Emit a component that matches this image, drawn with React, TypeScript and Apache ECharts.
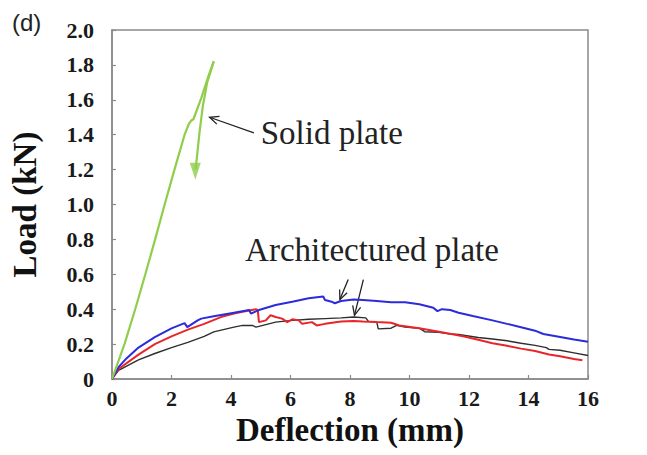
import React, { useEffect, useRef } from "react";
import * as echarts from "echarts";

// ---- data (deflection mm, load kN) ----
const solidLoading: number[][] = [
  [0, 0], [0.42, 0.2], [0.78, 0.4], [1.12, 0.6], [1.45, 0.8], [1.77, 1.0],
  [2.1, 1.2], [2.44, 1.4], [2.58, 1.46], [2.66, 1.48], [2.74, 1.49],
  [3.0, 1.61], [3.25, 1.74], [3.42, 1.82],
];
const solidUnloading: number[][] = [
  [3.42, 1.82], [3.2, 1.7], [3.05, 1.56], [2.94, 1.41], [2.86, 1.28], [2.81, 1.2],
];
const solidArrowHead: number[][] = [[2.8, 1.19]];

const blueCurve: number[][] = [
  [0, 0], [0.22, 0.068], [0.44, 0.11], [0.89, 0.18], [1.44, 0.24], [2.0, 0.29],
  [2.44, 0.32], [2.53, 0.297], [2.88, 0.336], [3.0, 0.346], [3.42, 0.36], [4.1, 0.38],
  [4.61, 0.395], [4.67, 0.375], [4.94, 0.395], [5.5, 0.424], [6.06, 0.443],
  [6.61, 0.463], [7.1, 0.473], [7.16, 0.453], [7.38, 0.443], [7.49, 0.434],
  [7.7, 0.447], [8.12, 0.455], [8.43, 0.453], [8.9, 0.447], [9.38, 0.44],
  [9.85, 0.44], [10.33, 0.428], [10.8, 0.408], [10.94, 0.389], [11.09, 0.4],
  [11.37, 0.395], [11.65, 0.38], [12.13, 0.361], [12.79, 0.336], [13.28, 0.316],
  [13.75, 0.297], [14.22, 0.277], [14.5, 0.258], [14.97, 0.244], [15.53, 0.226], [16, 0.214],
];

const redCurve: number[][] = [
  [0, 0], [0.22, 0.057], [0.89, 0.14], [1.44, 0.2], [2.0, 0.244], [2.55, 0.283],
  [3.1, 0.316], [3.66, 0.355], [4.1, 0.375], [4.39, 0.385], [4.84, 0.4], [4.9, 0.395],
  [4.94, 0.326], [5.17, 0.336], [5.33, 0.365], [5.5, 0.355], [5.72, 0.346],
  [5.89, 0.326], [6.06, 0.342], [6.28, 0.336], [6.39, 0.316], [6.72, 0.326],
  [6.88, 0.307], [7.16, 0.316], [7.7, 0.33], [8.12, 0.333], [8.43, 0.33], [8.9, 0.326],
  [9.38, 0.322], [9.66, 0.307], [10.33, 0.291], [10.8, 0.277], [11.27, 0.262],
  [11.84, 0.244], [12.31, 0.225], [12.79, 0.205], [13.28, 0.19], [13.75, 0.174],
  [14.22, 0.16], [14.69, 0.14], [15.06, 0.13], [15.53, 0.115], [15.81, 0.108],
];

const blackCurve: number[][] = [
  [0, 0], [0.22, 0.05], [0.89, 0.11], [1.44, 0.146], [2.0, 0.18], [2.55, 0.21],
  [3.1, 0.244], [3.42, 0.27], [4.1, 0.297], [4.39, 0.307], [4.72, 0.307], [4.84, 0.297],
  [5.5, 0.326], [6.06, 0.336], [6.61, 0.342], [7.16, 0.346], [7.7, 0.35], [8.12, 0.355],
  [8.53, 0.35], [8.62, 0.33], [8.9, 0.326], [8.95, 0.287], [9.38, 0.291], [9.57, 0.307],
  [9.85, 0.297], [10.33, 0.291], [10.51, 0.271], [10.99, 0.268], [11.37, 0.258],
  [11.65, 0.255], [12.31, 0.238], [12.79, 0.229], [13.28, 0.219], [13.75, 0.205],
  [14.22, 0.193], [14.6, 0.18], [14.69, 0.17], [15.06, 0.165], [15.53, 0.15], [16, 0.135],
];

const SERIF = "'Liberation Serif', 'Times New Roman', serif";

export default function App() {
  const ref = useRef<HTMLDivElement>(null);

  useEffect(() => {
    if (!ref.current) return;
    const chart = echarts.init(ref.current, undefined, { renderer: "svg" });

    const axisLine = { show: true, lineStyle: { color: "#8a8a8a", width: 1.5 } };
    const axisTick = { show: true, inside: true, length: 4, lineStyle: { color: "#8a8a8a", width: 1.2 } };
    const labelStyle = { fontFamily: SERIF, fontWeight: "bold" as const, fontSize: 22, color: "#1a1a1a" };

    chart.setOption({
      animation: false,
      backgroundColor: "#ffffff",
      grid: {
        left: 106, top: 30, right: 59, bottom: 76,
        show: true, borderColor: "#8a8a8a", borderWidth: 1.5, backgroundColor: "transparent",
      },
      xAxis: {
        type: "value", min: 0, max: 16, interval: 2,
        axisLine, axisTick, splitLine: { show: false },
        axisLabel: { ...labelStyle, margin: 8 },
        name: "Deflection (mm)", nameLocation: "middle", nameGap: 34,
        nameTextStyle: { fontFamily: SERIF, fontWeight: "bold", fontSize: 33, color: "#111" },
      },
      yAxis: {
        type: "value", min: 0, max: 2, interval: 0.2,
        axisLine, axisTick, splitLine: { show: false },
        axisLabel: { ...labelStyle, margin: 18, formatter: (v: number) => (v === 0 ? "0" : v.toFixed(1)) },
        name: "Load (kN)", nameLocation: "middle", nameGap: 71,
        nameTextStyle: { fontFamily: SERIF, fontWeight: "bold", fontSize: 33, color: "#111" },
      },
      series: [
        { type: "line", data: blackCurve, showSymbol: false, lineStyle: { color: "#2e2e2e", width: 1.4 }, z: 2 },
        { type: "line", data: redCurve, showSymbol: false, lineStyle: { color: "#e8262a", width: 2 }, z: 3 },
        { type: "line", data: blueCurve, showSymbol: false, lineStyle: { color: "#2b2bdc", width: 2 }, z: 4 },
        { type: "line", data: solidLoading, showSymbol: false, lineStyle: { color: "#8fcd4a", width: 2.2 }, z: 5 },
        { type: "line", data: solidUnloading, showSymbol: false, lineStyle: { color: "#8fcd4a", width: 2.2 }, z: 5 },
        {
          type: "scatter", data: solidArrowHead, symbol: "triangle", symbolRotate: 180,
          symbolSize: [11, 17], itemStyle: { color: "#8fcd4a" }, z: 5,
        },
      ],
    });

    const px = (p: number[]) => chart.convertToPixel({ gridIndex: 0 }, p) as number[];
    const arrow = (tail: number[], tip: number[], head = 10, ang = 0.42) => {
      const a = px(tail);
      const b = px(tip);
      const th = Math.atan2(a[1] - b[1], a[0] - b[0]);
      const p1 = [b[0] + head * Math.cos(th + ang), b[1] + head * Math.sin(th + ang)];
      const p2 = [b[0] + head * Math.cos(th - ang), b[1] + head * Math.sin(th - ang)];
      const st = { stroke: "#222", lineWidth: 1.3, fill: null };
      return [
        { type: "line", shape: { x1: a[0], y1: a[1], x2: b[0], y2: b[1] }, style: st },
        { type: "polyline", shape: { points: [p1, b, p2] }, style: st },
      ];
    };

    const solidTextPos = px([5.0, 1.41]);
    const archTextPos = px([8.74, 0.74]);

    chart.setOption({
      graphic: [
        {
          type: "text", left: 12, top: 10,
          style: { text: "(d)", font: "24px 'Liberation Sans', Arial, sans-serif", fill: "#222" },
        },
        ...arrow([4.77, 1.41], [3.28, 1.5]),
        ...arrow([7.94, 0.57], [7.66, 0.455]),
        ...arrow([8.45, 0.57], [8.15, 0.365]),
        {
          type: "text", x: solidTextPos[0], y: solidTextPos[1],
          style: { text: "Solid plate", font: `33px ${SERIF}`, fill: "#222", textAlign: "left", textVerticalAlign: "middle" },
        },
        {
          type: "text", x: archTextPos[0], y: archTextPos[1],
          style: { text: "Architectured plate", font: `33px ${SERIF}`, fill: "#222", textAlign: "center", textVerticalAlign: "middle" },
        },
      ],
    });

    return () => chart.dispose();
  }, []);

  return (
    <div
      ref={ref}
      style={{ position: "fixed", left: 0, top: 0, width: 647, height: 455, background: "#fff" }}
    />
  );
}
